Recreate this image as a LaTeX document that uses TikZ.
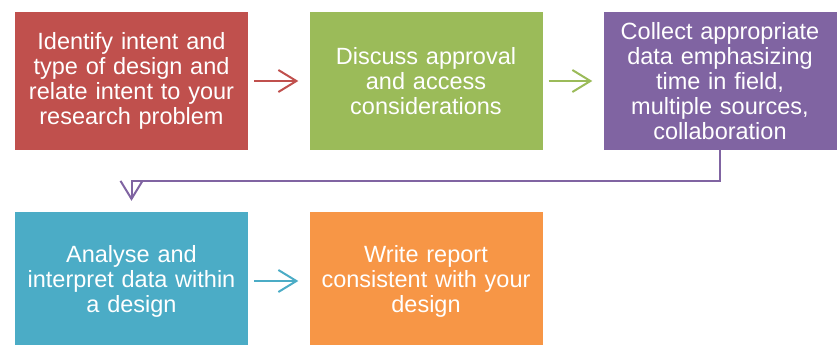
\documentclass[tikz,border=0pt]{standalone}
\usepackage{fontspec}
\setmainfont{Liberation Sans}
\usepackage{tikz}
\usetikzlibrary{arrows.meta,positioning}
\usepackage{xcolor}
\definecolor{stepred}{HTML}{C0504D}
\definecolor{stepgreen}{HTML}{9BBB59}
\definecolor{steppurple}{HTML}{8064A2}
\definecolor{stepteal}{HTML}{4BACC6}
\definecolor{steporange}{HTML}{F79646}

\begin{document}
\begin{tikzpicture}[x=1pt,y=1pt,node distance=200pt and 294.5pt,on grid,
  stepbox/.style={rectangle,minimum width=233pt,minimum height=138pt,inner sep=0pt,
    text width=222pt,align=center,text=white,
    font=\fontsize{23.5pt}{25pt}\selectfont}]
          \clip (0,0) rectangle (839,-345);
          \node[stepbox,fill=stepred]    (identify) at (131.5,-81)         {Identify intent and\\ type of design and\\ relate intent to your\\ research problem};
          \node[stepbox,fill=stepgreen]  (discuss)  [right =of identify]   {Discuss approval\\ and access\\ considerations};
          \node[stepbox,fill=steppurple] (collect)  [right =294pt of discuss] {Collect appropriate\\ data emphasizing\\ time in field,\\ multiple sources,\\ collaboration};
          \node[stepbox,fill=stepteal]   (analyse)  [below =of identify]   {Analyse and\\ interpret data within\\ a design};
          \node[stepbox,fill=steporange] (write)    [right =of analyse]    {Write report\\ consistent with your\\ design};
          \tikzset{flow/.style={-{Straight Barb[length=18pt,width=22pt]},line width=2pt,shorten <=6pt,shorten >=11pt}}
          \path (identify) edge [flow,stepred]    (discuss)
          (discuss)        edge [flow,stepgreen]  (collect)
          (analyse)        edge [flow,stepteal]   (write);
          \draw[flow,steppurple,shorten <=0pt] (collect.south) -- ++(0,-31) -| (analyse.north);
        \end{tikzpicture}
\end{document}
